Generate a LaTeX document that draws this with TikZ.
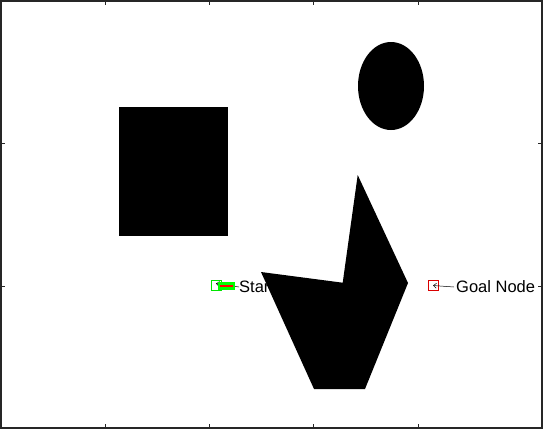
\documentclass[tikz,border=0pt]{standalone}
\usepackage{fontspec}
\setmainfont{Liberation Sans}
\usetikzlibrary{arrows.meta}
\begin{document}
\begin{tikzpicture}[x=1pt,y=-1pt,
  obstacle/.style={fill=black,draw=none},
  lbl/.style={anchor=west,inner sep=0pt,font=\fontsize{16.5}{18}\selectfont},
  ptr/.style={draw=black,line width=0.5pt,-{Straight Barb[length=3pt,width=5pt]}},
  tick/.style={draw=black!85,line width=0.8pt}]
\useasboundingbox (0,0) rectangle (543,429);
\fill[white] (0,0) rectangle (543,429);
% frame
\draw[black!85,line width=1.4pt] (1,1) rectangle (542,428);
\foreach \x in {105,209,313,418}{
  \draw[tick] (\x,1) -- (\x,5);
  \draw[tick] (\x,428) -- (\x,424);
}
\foreach \y in {143,286}{
  \draw[tick] (1,\y) -- (5,\y);
  \draw[tick] (542,\y) -- (538,\y);
}
% start marker
\node[draw=green!90!black,line width=0.8pt,minimum size=10pt,inner sep=0pt] (startm) at (216,285.5) {};
\node[lbl] (startl) at (239,287) {Start Node};
\draw[ptr] (startl.west) -- ([yshift=2pt]startm.center);
\fill[green] (218,282) rectangle (235,290);
\draw[red,line width=2.5pt] (220,286) -- (233,286);
% goal marker
\node[draw=red!85!black,line width=0.8pt,minimum size=10pt,inner sep=0pt] (goalm) at (433,285.5) {};
\node[lbl] (goall) at (456,287) {Goal Node};
\draw[ptr] ([xshift=-2pt]goall.west) -- (goalm.center);
% obstacles
\fill[obstacle] (119,107) rectangle (228,236);
\fill[obstacle] (391,86) ellipse [x radius=33, y radius=44];
\fill[obstacle] (357.7,175) -- (408,283) -- (365,389) -- (314,389) -- (261,272) -- (342.7,282.7) -- cycle;
\end{tikzpicture}
\end{document}
